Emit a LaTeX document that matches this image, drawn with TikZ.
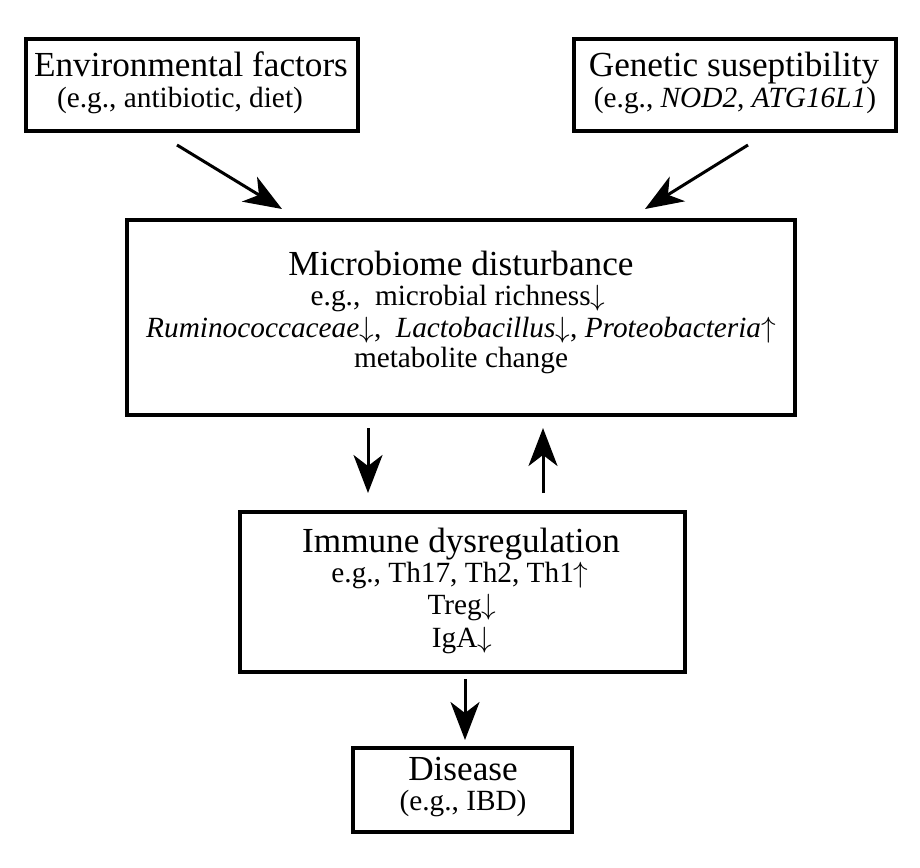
\RequirePackage{fix-cm}
\documentclass[tikz,border=0pt]{standalone}
\usepackage{fontspec}
\setmainfont{Liberation Serif}
\usetikzlibrary{arrows.meta}
\DeclareFontShape{OMS}{cmsy}{m}{n}{<-> cmsy10}{}
\tikzset{
  boxnode/.style={draw=black, line width=4pt, inner sep=0pt},
  titletext/.style={anchor=base, inner sep=0pt, font=\fontsize{35.2}{37}\selectfont},
  subtext/.style={anchor=base, inner sep=0pt, font=\fontsize{29.3}{31}\selectfont},
  flowarrow/.style={line width=3pt, -{Stealth[length=38pt,width=29pt,inset=11pt]}},
}
\newcommand{\dnar}{\ensuremath{\downarrow}}
\newcommand{\upar}{\ensuremath{\uparrow}}
\begin{document}
\begin{tikzpicture}[x=1pt,y=-1pt]
\useasboundingbox (0,0) rectangle (920,867);
% boxes
\node[boxnode, minimum width=332pt, minimum height=92pt] (env) at (192,85) {};
\node[boxnode, minimum width=322pt, minimum height=92pt] (gen) at (735,85) {};
\node[boxnode, minimum width=668pt, minimum height=195pt] (mic) at (461,317.5) {};
\node[boxnode, minimum width=445pt, minimum height=160pt] (imm) at (462.5,592) {};
\node[boxnode, minimum width=219pt, minimum height=84pt] (dis) at (462.5,790) {};
% texts
\node[titletext] (envA) at (191,77) {Environmental factors};
\node[subtext] (envB) at (180,107) {(e.g., antibiotic, diet)};
\node[titletext] (genA) at (734,77) {Genetic suseptibility};
\node[subtext] (genB) at (735,107) {(e.g., \textit{NOD2}, \textit{ATG16L1})};
\node[titletext] (micA) at (461,275) {Microbiome disturbance};
\node[subtext] (micB) at (458,305) {e.g.,\ \ microbial richness\dnar};
\node[subtext] (micC) at (461,337) {\textit{Ruminococcaceae}\dnar,\ \ \textit{Lactobacillus}\dnar, \textit{Proteobacteria}\upar};
\node[subtext] (micD) at (461,367) {metabolite change};
\node[titletext] (immA) at (461,552) {Immune dysregulation};
\node[subtext] (immB) at (460,582) {e.g., Th17, Th2, Th1\upar};
\node[subtext] (immC) at (462,614) {Treg\dnar};
\node[subtext] (immD) at (462,647) {IgA\dnar};
\node[titletext] (disA) at (463,780) {Disease};
\node[subtext] (disB) at (463,810) {(e.g., IBD)};
% connectors
\coordinate (envS) at (177,145);
\coordinate (envE) at (282,209);
\coordinate (genS) at (748,145);
\coordinate (genE) at (645,209);
\coordinate (dnS) at (368,428);
\coordinate (dnE) at (368,493);
\coordinate (upS) at (543,493);
\coordinate (upE) at (543,428);
\coordinate (disS) at (465,679);
\coordinate (disE) at (465,740);
\draw[flowarrow] (envS) -- (envE);
\draw[flowarrow] (genS) -- (genE);
\draw[flowarrow] (dnS) -- (dnE);
\draw[flowarrow] (upS) -- (upE);
\draw[flowarrow] (disS) -- (disE);
\end{tikzpicture}
\end{document}
